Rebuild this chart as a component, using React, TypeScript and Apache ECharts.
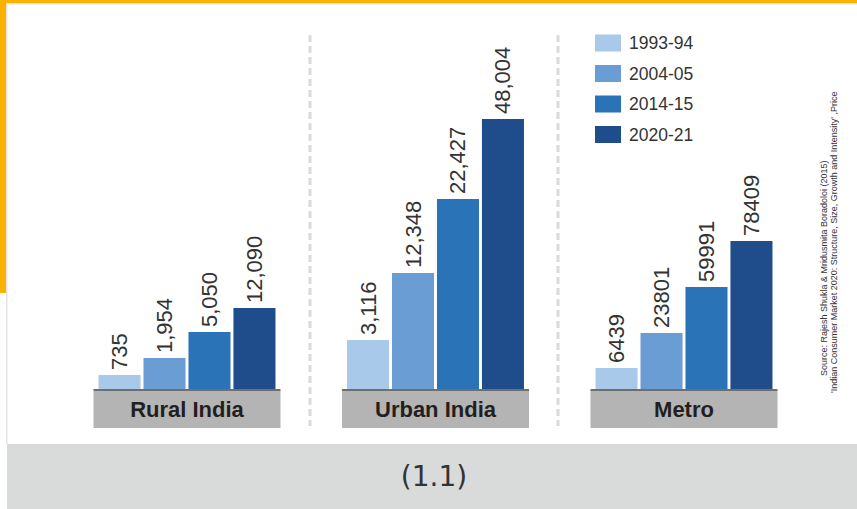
import React, { useEffect, useRef } from "react";
import * as echarts from "echarts";

// Categories and periods
const categories = ["Rural India", "Urban India", "Metro"];
const periods = ["1993-94", "2004-05", "2014-15", "2020-21"];

// Printed values (as shown on the chart)
const ruralLabels = ["735", "1,954", "5,050", "12,090"];
const urbanLabels = ["3,116", "12,348", "22,427", "48,004"];
const metroLabels = ["6439", "23801", "59991", "78409"];

// Drawn bar heights (the infographic is not to scale)
const ruralHeights = [14, 31, 57, 81];
const urbanHeights = [49, 116, 190, 270];
const metroHeights = [21, 56, 102, 148];

const colors = ["#A9C9EB", "#6A9DD4", "#2A73B7", "#1F4C8B"];

const sourceLine1 = "Source: Rajesh Shukla & Mridusmita Boradoloi (2015)";
const sourceLine2 =
  "'Indian Consumer Market 2020: Structure, Size, Growth and Intensity' ,Price";

export default function App() {
  const ref = useRef<HTMLDivElement>(null);

  useEffect(() => {
    document.body.style.margin = "0";
    if (!ref.current) return;
    const chart = echarts.init(ref.current, null, { renderer: "svg" });
    const labelsByCat = [ruralLabels, urbanLabels, metroLabels];
    const heightsByCat = [ruralHeights, urbanHeights, metroHeights];

    const series = periods.map((p, si) => ({
      name: p,
      type: "bar",
      barGap: "7%",
      barCategoryGap: "28.8%",
      itemStyle: { color: colors[si] },
      data: heightsByCat.map((h) => h[si]),
      label: {
        show: true,
        position: "top",
        rotate: 90,
        align: "left",
        verticalAlign: "middle",
        distance: 5,
        fontSize: 22,
        fontFamily: "Liberation Sans, Arial, sans-serif",
        color: "#333333",
        formatter: (params: any) => labelsByCat[params.dataIndex][si],
      },
    }));

    const dash = {
      stroke: "#DADADA",
      lineWidth: 3,
      lineDash: [7, 4],
    };

    chart.setOption({
      animation: false,
      backgroundColor: "#FFFFFF",
      legend: {
        orient: "vertical",
        left: 595,
        top: 34,
        padding: 0,
        itemWidth: 26,
        itemHeight: 17,
        itemGap: 12.5,
        icon: "rect",
        textStyle: {
          fontSize: 17.5,
          color: "#333333",
          fontFamily: "Liberation Sans, Arial, sans-serif",
          padding: [0, 0, 0, 3],
        },
        data: periods,
      },
      grid: { left: 62.75, width: 745.5, top: 89, height: 300 },
      xAxis: {
        type: "category",
        data: categories,
        axisLine: { show: false },
        axisTick: { show: false },
        axisLabel: {
          margin: 0,
          interval: 0,
          formatter: (v: string) => `{bar| }\n{box|${v}}`,
          rich: {
            bar: {
              width: 187,
              height: 2,
              lineHeight: 2,
              fontSize: 1,
              backgroundColor: "#6E6E6E",
            },
            box: {
              width: 187,
              height: 37,
              lineHeight: 37,
              align: "center",
              fontSize: 22,
              fontWeight: "bold",
              color: "#231F20",
              fontFamily: "Liberation Sans, Arial, sans-serif",
              backgroundColor: "#B3B4B3",
            },
          },
        },
      },
      yAxis: {
        type: "value",
        min: 0,
        max: 300,
        show: false,
        splitLine: { show: false },
      },
      graphic: [
        // bottom band
        { type: "rect", shape: { x: 7, y: 444, width: 850, height: 65 }, style: { fill: "#D9DBDA" }, z: -10 },
        // thin light borders
        { type: "rect", shape: { x: 6, y: 3, width: 1.5, height: 441 }, style: { fill: "#E3E3E3" }, z: -9 },
        { type: "rect", shape: { x: 6, y: 3, width: 851, height: 1.5 }, style: { fill: "#E3E3E3" }, z: -9 },
        // yellow strips
        { type: "rect", shape: { x: 0, y: 0, width: 857, height: 3 }, style: { fill: "#F9B200" }, z: -8 },
        { type: "rect", shape: { x: 0, y: 0, width: 6, height: 293 }, style: { fill: "#F9B200" }, z: -8 },
        // dashed separators
        { type: "line", shape: { x1: 310, y1: 35, x2: 310, y2: 426 }, style: dash, z: -5 },
        { type: "line", shape: { x1: 558, y1: 35, x2: 558, y2: 426 }, style: dash, z: -5 },
        // figure number
        {
          type: "text",
          x: 434,
          y: 476,
          style: {
            text: "(1.1)",
            fontSize: 28,
            fontFamily: "DejaVu Sans, sans-serif",
            fill: "#333333",
            align: "center",
            verticalAlign: "middle",
          },
        },
        // source (rotated)
        {
          type: "text",
          x: 824,
          y: 376,
          rotation: Math.PI / 2,
          style: {
            text: sourceLine1,
            fontSize: 9,
            fontFamily: "Liberation Sans, Arial, sans-serif",
            fill: "#333333",
            align: "left",
            verticalAlign: "middle",
          },
        },
        {
          type: "text",
          x: 834,
          y: 393,
          rotation: Math.PI / 2,
          style: {
            text: sourceLine2,
            fontSize: 9,
            fontFamily: "Liberation Sans, Arial, sans-serif",
            fill: "#333333",
            align: "left",
            verticalAlign: "middle",
          },
        },
      ],
      series,
    });

    return () => chart.dispose();
  }, []);

  return (
    <div
      ref={ref}
      style={{ position: "absolute", left: 0, top: 0, width: 857, height: 509 }}
    />
  );
}
